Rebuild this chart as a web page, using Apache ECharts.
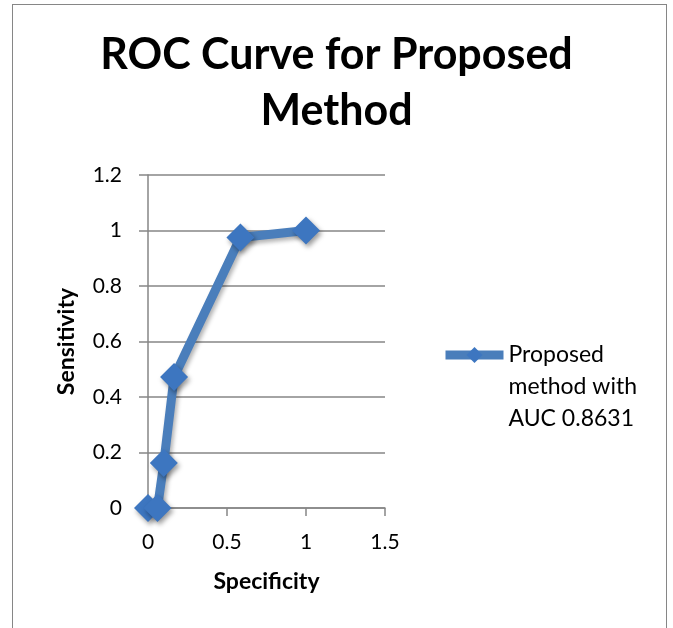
<!DOCTYPE html>
<html>
<head>
<meta charset="utf-8">
<script src="https://cdn.jsdelivr.net/npm/echarts@6/dist/echarts.min.js"></script>
<style>
  html, body { margin: 0; padding: 0; background: #fff; }
  #box { position: absolute; left: 12px; top: 4px; width: 655px; height: 640px; border: 1.5px solid #868686; box-sizing: border-box; }
  #chart { position: absolute; left: 0; top: 0; width: 673px; height: 628px; }
</style>
</head>
<body>
<div id="box"></div>
<div id="chart"></div>
<script>
// ROC 曲线数据
var specificity = [0, 0.06, 0.10, 0.165, 0.585, 1];
var sensitivity = [0, 0, 0.162, 0.472, 0.975, 1];
var yTicks = [0, 0.2, 0.4, 0.6, 0.8, 1, 1.2];
var xTicks = [0, 0.5, 1, 1.5];
var seriesName = 'Proposed method with AUC 0.8631';

var font = 'Lato, "Open Sans", sans-serif';
var myChart = echarts.init(document.getElementById('chart'));

var points = [];
for (var i = 0; i < specificity.length; i++) {
    points.push([specificity[i], sensitivity[i]]);
}

var option = {
    animation: false,
    title: {
        text: 'ROC Curve for Proposed\nMethod',
        left: 'center',
        top: 22,
        textStyle: { fontFamily: font, fontWeight: 'bold', fontSize: 43, lineHeight: 56, color: '#000' }
    },
    legend: {
        left: 436,
        top: 270,
        orient: 'vertical',
        itemWidth: 58,
        itemHeight: 20,
        data: [seriesName],
        lineStyle: { width: 9 },
        formatter: function () { return '\n\nProposed\nmethod with\nAUC 0.8631'; },
        textStyle: { fontFamily: font, fontSize: 23, lineHeight: 32, color: '#000' }
    },
    grid: { left: 148, top: 175, width: 237, height: 333 },
    xAxis: {
        type: 'value',
        min: xTicks[0],
        max: xTicks[xTicks.length - 1],
        interval: 0.5,
        name: 'Specificity',
        nameLocation: 'middle',
        nameGap: 62,
        nameTextStyle: { fontFamily: font, fontWeight: 'bold', fontSize: 23, color: '#000' },
        axisLine: { show: true, lineStyle: { color: '#868686', width: 1.5 } },
        axisTick: { show: true, length: 8, lineStyle: { color: '#868686', width: 1.5 } },
        axisLabel: { margin: 24, fontFamily: font, fontSize: 21, color: '#000' },
        splitLine: { show: false }
    },
    yAxis: {
        type: 'value',
        min: yTicks[0],
        max: yTicks[yTicks.length - 1],
        interval: 0.2,
        name: 'Sensitivity',
        nameLocation: 'middle',
        nameGap: 70,
        nameTextStyle: { fontFamily: font, fontWeight: 'bold', fontSize: 23, color: '#000' },
        axisLine: { show: true, lineStyle: { color: '#868686', width: 1.5 } },
        axisTick: { show: true, length: 9, lineStyle: { color: '#868686', width: 1.5 } },
        axisLabel: {
            margin: 26, fontFamily: font, fontSize: 21, color: '#000',
            formatter: function (v) { return String(Math.round(v * 10) / 10); }
        },
        splitLine: { show: true, lineStyle: { color: '#868686', width: 1.5 } }
    },
    series: [{
        name: seriesName,
        type: 'line',
        data: points,
        symbol: 'diamond',
        symbolSize: 28,
        lineStyle: { color: '#4a7ebb', width: 9, shadowBlur: 4, shadowColor: 'rgba(0,0,0,0.3)', shadowOffsetX: 2, shadowOffsetY: 3 },
        itemStyle: { color: '#3d76c0', shadowBlur: 5, shadowColor: 'rgba(0,0,0,0.4)', shadowOffsetX: 2, shadowOffsetY: 3 }
    }]
};

myChart.setOption(option);
</script>
</body>
</html>
